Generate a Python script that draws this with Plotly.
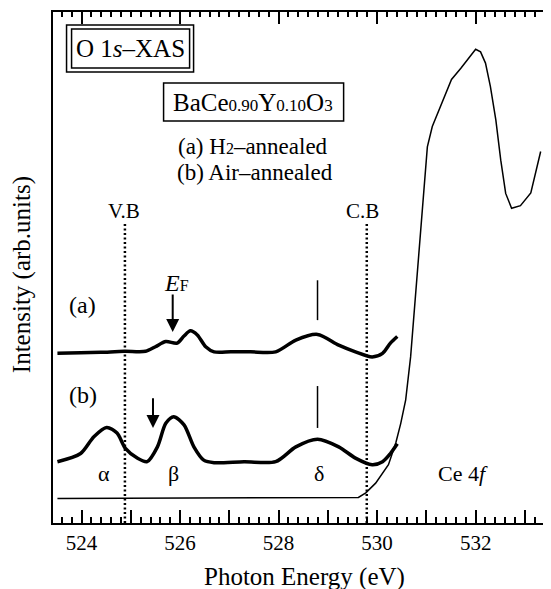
import plotly.graph_objects as go

FONT = "'Liberation Serif', 'Times New Roman', 'DejaVu Serif', serif"

# ---- data ----
energy_a = [523.51, 523.98, 524.39, 524.87, 525.30, 525.50, 525.71, 525.94, 526.08, 526.21,
            526.35, 526.52, 526.69, 527.03, 527.43, 527.94, 528.35, 528.79, 529.22, 529.56,
            529.90, 530.11, 530.27, 530.41]
intensity_a = [33.2, 33.3, 33.4, 33.6, 33.6, 34.5, 35.5, 35.2, 36.6, 37.6,
               36.8, 34.5, 33.5, 33.5, 33.5, 33.5, 35.8, 36.9, 34.8, 33.5,
               32.5, 33.2, 35.2, 36.5]

energy_b = [523.51, 523.98, 524.25, 524.51, 524.72, 524.89, 525.13, 525.33, 525.54, 525.71,
            525.87, 526.08, 526.28, 526.48, 526.69, 527.30, 527.94, 528.35, 528.79, 529.22,
            529.56, 529.90, 530.11, 530.27, 530.41]
intensity_b = [12.0, 13.6, 16.9, 18.7, 17.6, 14.6, 12.7, 12.0, 14.9, 19.5,
               20.8, 19.2, 14.9, 12.3, 11.8, 12.0, 12.0, 14.9, 16.4, 14.9,
               12.7, 11.4, 12.0, 13.6, 15.5]

energy_ref = [523.51, 529.62, 529.77, 529.97, 530.23, 530.38, 530.48, 530.58, 530.68, 530.78,
              530.85, 530.92, 531.02, 531.12, 531.26, 531.51, 531.70, 532.00, 532.10, 532.20,
              532.30, 532.41, 532.51, 532.61, 532.73, 532.91, 533.12, 533.32]
intensity_ref = [4.8, 5.0, 5.9, 7.8, 11.4, 15.7, 19.5, 24.1, 32.5, 44.6,
                 53.4, 63.2, 73.6, 77.6, 80.8, 86.8, 89.0, 92.7, 92.2, 90.0,
                 85.4, 78.9, 71.0, 64.5, 61.6, 62.1, 64.6, 72.7]

band_edge_names = ["V.B", "C.B"]
band_edge_energy = [524.88, 529.79]
band_edge_top = 58.5

fermi_energy = [525.85, 525.45]          # arrows for (a) and (b)
fermi_tail = [45.0, 24.7]
fermi_head = [37.4, 18.6]

delta_energy = 528.79
delta_mark_a = [47.5, 39.7]
delta_mark_b = [26.8, 18.6]

tick_values = [524, 525, 526, 527, 528, 529, 530, 531, 532, 533]
tick_labels = ["524", "", "526", "", "528", "", "530", "", "532", ""]

fig = go.Figure()

# thin reference (Ce 4f) line
fig.add_trace(go.Scatter(x=energy_ref, y=intensity_ref, mode="lines",
                         line=dict(color="black", width=1.5), hoverinfo="skip"))
# spectra
fig.add_trace(go.Scatter(x=energy_a, y=intensity_a, mode="lines",
                         line=dict(color="black", width=3.5, shape="spline", smoothing=0.8)))
fig.add_trace(go.Scatter(x=energy_b, y=intensity_b, mode="lines",
                         line=dict(color="black", width=3.5, shape="spline", smoothing=0.8)))
# band edges (dotted)
for e in band_edge_energy:
    fig.add_trace(go.Scatter(x=[e, e], y=[0, band_edge_top], mode="lines", xaxis="x2",
                             line=dict(color="black", width=2.5, dash="2px,2.5px")))
# delta marks
for m in (delta_mark_a, delta_mark_b):
    fig.add_trace(go.Scatter(x=[delta_energy, delta_energy], y=m, mode="lines",
                             line=dict(color="black", width=1.5)))

ann = []
def txt(x, y, t, size=22, **kw):
    ann.append(dict(x=x, y=y, xref="x", yref="y", text=t, showarrow=False,
                    font=dict(family=FONT, size=size, color="black"), **kw))

txt(524.995, 92.9, "O 1<i>s</i>–XAS", 25)
txt(527.49, 82.3, "BaCe<span style='font-size:17px'>0.90</span>Y<span style='font-size:17px'>0.10</span>O<span style='font-size:17px'>3</span>", 25)
txt(527.49, 73.6, "(a) H<span style='font-size:16px'>2</span>–annealed", 23, borderpad=0)
txt(527.52, 68.5, "(b) Air–annealed", 23, borderpad=0)
for name, e in zip(band_edge_names, band_edge_energy):
    txt(e - 0.02 if name == "V.B" else e - 0.08, 61.0, name, 21)
txt(524.02, 42.7, "(a)", 24)
txt(524.02, 25.0, "(b)", 24)
txt(525.93, 47.0, "<i>E</i><span style='font-size:16px'>F</span>", 24)
txt(524.45, 9.6, "α", 22)
txt(525.87, 9.6, "β", 22)
txt(528.81, 9.6, "δ", 22)
txt(531.74, 9.6, "Ce 4<i>f</i>", 22)

for e, t, h in zip(fermi_energy, fermi_tail, fermi_head):
    ann.append(dict(x=e, y=h, ax=e, ay=t, xref="x", yref="y", axref="x", ayref="y",
                    text="", showarrow=True, arrowhead=2, arrowsize=1.3, arrowwidth=2,
                    arrowcolor="black", standoff=0))

# axis titles
ann.append(dict(x=0.506, y=0, xref="paper", yref="paper", yanchor="middle", yshift=-54,
                text="Photon Energy (eV)", showarrow=False,
                font=dict(family=FONT, size=25, color="black")))
ann.append(dict(x=0, y=0.485, xref="paper", yref="paper", xanchor="center", xshift=-31,
                textangle=-90, text="Intensity (arb.units)", showarrow=False,
                font=dict(family=FONT, size=25, color="black")))

shapes = [
    dict(type="rect", xref="x", yref="y", x0=523.695, x1=526.274, y0=88.26, y1=97.46,
         line=dict(color="black", width=1.5)),
    dict(type="rect", xref="x", yref="y", x0=523.797, x1=526.193, y0=89.04, y1=96.67,
         line=dict(color="black", width=1.5)),
    dict(type="rect", xref="x", yref="y", x0=525.665, x1=529.32, y0=78.67, y1=86.11,
         line=dict(color="black", width=1.5)),
]

xr = [523.42, 533.53]
# page body has an 8px default margin: figure is sized so the plot area lands at x 53..551, y 12..523
fig.update_layout(
    width=543, height=581, margin=dict(l=45, r=0, t=4, b=66),
    font=dict(family=FONT, color="black"),
    plot_bgcolor="white", paper_bgcolor="white", showlegend=False,
    annotations=ann, shapes=shapes,
    xaxis=dict(range=xr, showline=True, linecolor="black", linewidth=2, mirror=False,
               ticks="inside", tickmode="array", tickvals=tick_values, ticktext=tick_labels,
               ticklen=13, tickwidth=1.5, tickcolor="black",
               minor=dict(ticks="inside", tickmode="linear", tick0=524, dtick=0.2,
                          ticklen=6, tickwidth=1.5, tickcolor="black"),
               tickfont=dict(family=FONT, size=21, color="black"),
               showgrid=False, zeroline=False),
    xaxis2=dict(range=xr, overlaying="x", side="top", anchor="y", showline=True,
                linecolor="black", linewidth=2, ticks="inside", tickmode="linear",
                tick0=524, dtick=2, ticklen=12, tickwidth=1.5, tickcolor="black",
                minor=dict(ticks="inside", tickmode="linear", tick0=524, dtick=0.2,
                           ticklen=5, tickwidth=1.5, tickcolor="black"),
                showticklabels=False, showgrid=False, zeroline=False),
    yaxis=dict(range=[0, 100], showline=True, linecolor="black", linewidth=2,
               ticks="", showticklabels=False, showgrid=False, zeroline=False),
)

fig.write_html("out.html")
